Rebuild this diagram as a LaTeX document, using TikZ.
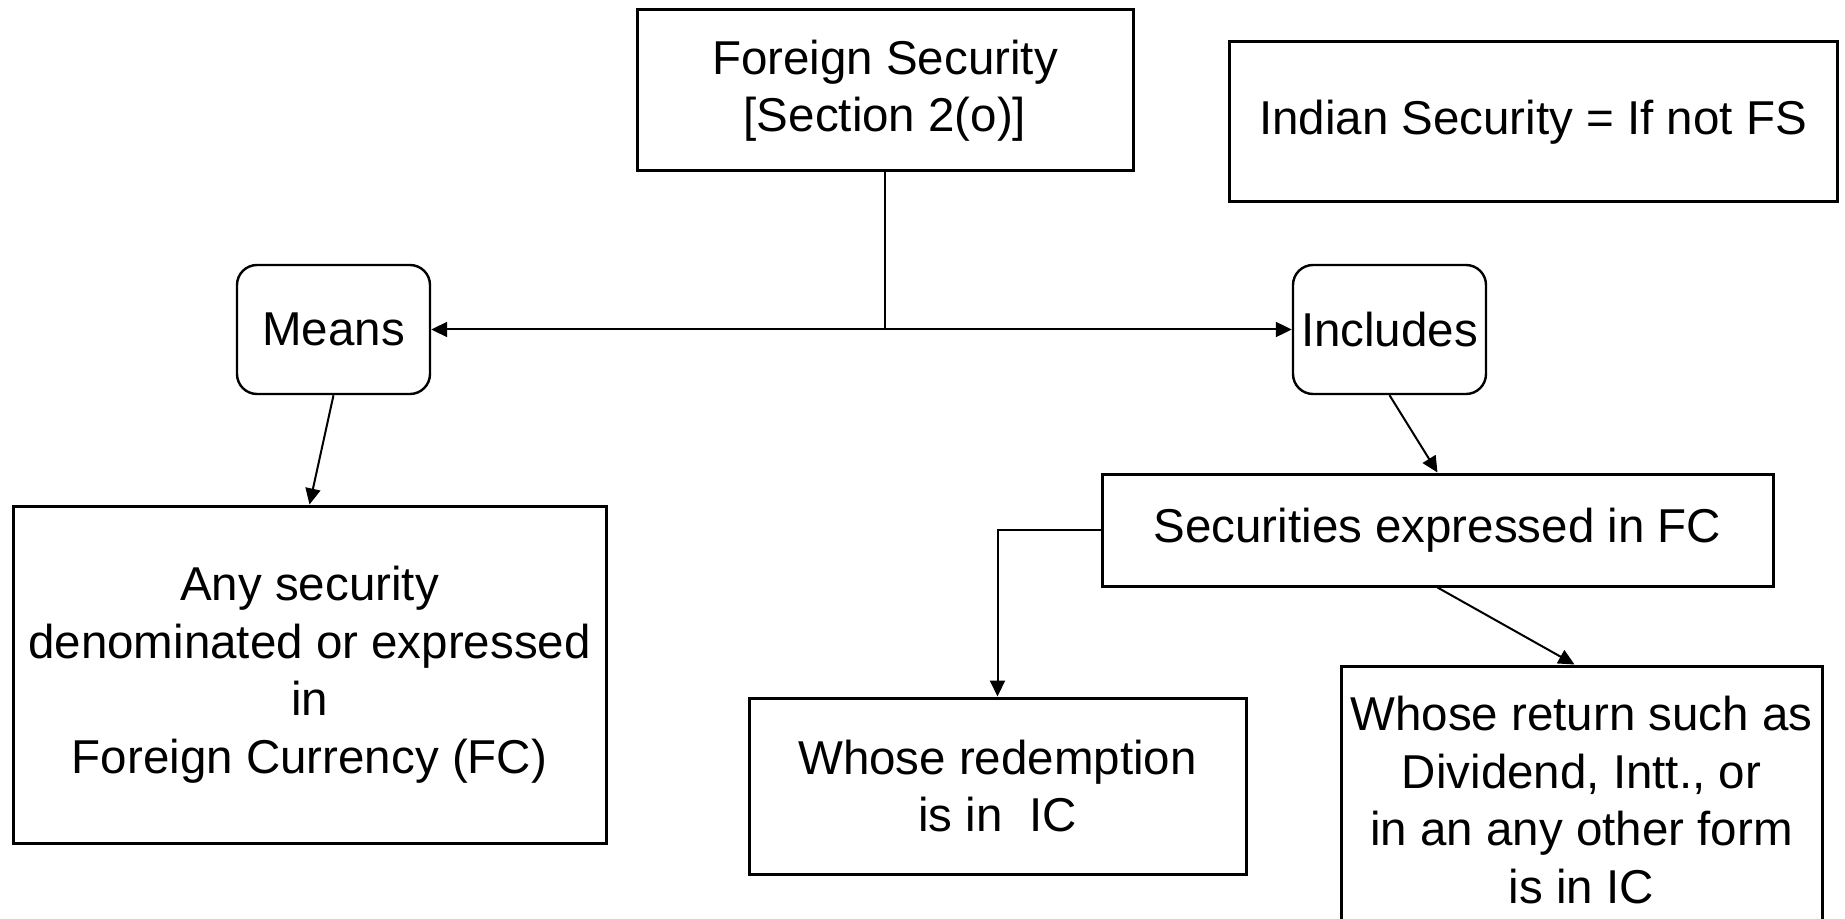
\documentclass[tikz,border=0pt]{standalone}
\usepackage{fontspec}
\setmainfont{Liberation Sans}
\usetikzlibrary{arrows.meta}
\begin{document}
\begin{tikzpicture}[x=0.5pt,y=-0.5pt,
  box/.style={draw, line width=1.5pt, inner sep=0pt, align=center,
    font=\fontsize{23.75}{28.75}\selectfont},
  rbox/.style={box, rounded corners=10pt, line width=1.2pt},
  conn/.style={line width=1pt},
  arr/.style={conn, -{Triangle[length=8pt,width=7.5pt]}}]
\fill[white] (0,0) rectangle (1845,919);
\useasboundingbox (0,0) rectangle (1845,919);

\node[box, minimum width=248pt, minimum height=80.5pt] (fs) at (885,90.5)
  {Foreign Security\\{}[Section 2(o)]};
\node[box, minimum width=304pt, minimum height=80pt] (ind) at (1533,122)
  {Indian Security = If not FS};
\node[rbox, minimum width=96.5pt, minimum height=64.5pt] (mn) at (333.5,329.5) {Means};
\node[rbox, minimum width=96.5pt, minimum height=64.5pt] (inc) at (1389.5,329.5) {Includes};
\node[box, minimum width=296.5pt, minimum height=168.5pt] (any) at (309.5,674.5)
  {Any security\\denominated or expressed\\in\\Foreign Currency (FC)};
\node[box, minimum width=335.5pt, minimum height=56pt] (sec) at (1437.5,530)
  {Securities expressed in FC};
\node[box, minimum width=248.5pt, minimum height=88pt] (red) at (997.5,786)
  {Whose redemption\\is in\ \ IC};
\node[box, minimum width=240.5pt, minimum height=134pt] (ret) at (1581.5,800)
  {Whose return such as\\Dividend, Intt., or\\in an any other form\\is in IC};

\coordinate (j) at (fs.south |- mn.east);
\draw[conn] (fs.south) -- (j);
\draw[arr] (j) -- (mn.east);
\draw[arr] (j) -- (inc.west);
\draw[arr] (mn.south) -- (any.north);
\draw[arr] (inc.south) -- (sec.north);
\draw[arr] (sec.west) -| (red.north);
\draw[arr] (sec.south) -- ([xshift=-3.5pt]ret.north);
\end{tikzpicture}
\end{document}
